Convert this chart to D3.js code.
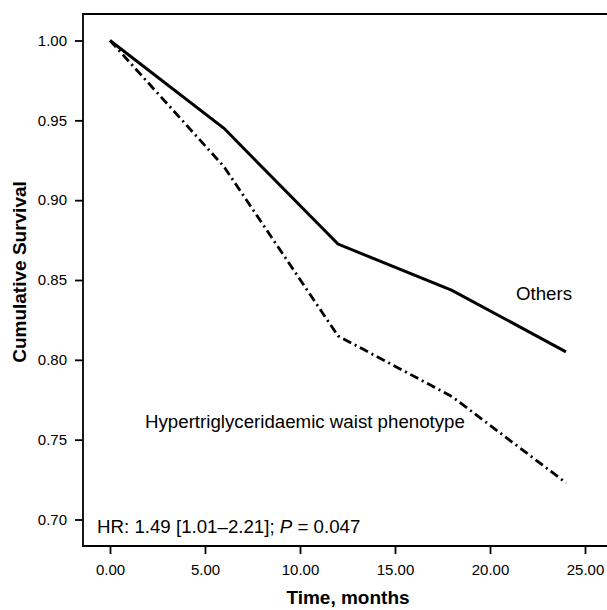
<!DOCTYPE html>
<html lang="en">
<head>
    <meta charset="UTF-8">
    <title>Cumulative Survival</title>
    <style>
        body { margin: 0; background: #fff; }
        svg { display: block; font-family: "Liberation Sans", Arial, sans-serif; }
    </style>
</head>
<body>
    <svg id="chart" width="607" height="610"></svg>

    <script src="https://d3js.org/d3.v7.min.js"></script>
    <script>
        // Data
        var months = [0, 6, 12, 18, 24];
        var others = [1.000, 0.945, 0.8725, 0.8435, 0.805];
        var hypertg = [1.000, 0.921, 0.815, 0.777, 0.723];
        var xTicks = [0, 5, 10, 15, 20, 25];
        var yTicks = [0.70, 0.75, 0.80, 0.85, 0.90, 0.95, 1.00];

        var svg = d3.select('#chart');

        // Frame: left 83, top 14, bottom 546, open to the right
        var frame = { left: 83, top: 14, bottom: 546, right: 607 };

        var x = d3.scaleLinear().domain([0, 25]).range([110, 585]);
        var y = d3.scaleLinear().domain([0.70, 1.00]).range([519.5, 40.5]);

        // Frame lines
        svg.append('path')
            .attr('d', 'M' + frame.right + ',' + frame.top + 'H' + frame.left + 'V' + frame.bottom + 'H' + frame.right)
            .attr('fill', 'none')
            .attr('stroke', '#000')
            .attr('stroke-width', 1.8);

        // Y axis
        var yAxis = d3.axisLeft(y)
            .tickValues(yTicks)
            .tickFormat(d3.format('.2f'))
            .tickSize(8)
            .tickPadding(8);
        var gy = svg.append('g')
            .attr('transform', 'translate(' + frame.left + ',0)')
            .call(yAxis);
        gy.select('.domain').remove();
        gy.selectAll('.tick line').attr('stroke-width', 1.8);
        gy.selectAll('.tick text').attr('font-size', 15).attr('font-family', '"Liberation Sans", Arial, sans-serif');

        // X axis
        var xAxis = d3.axisBottom(x)
            .tickValues(xTicks)
            .tickFormat(d3.format('.2f'))
            .tickSize(8)
            .tickPadding(10);
        var gx = svg.append('g')
            .attr('transform', 'translate(0,' + frame.bottom + ')')
            .call(xAxis);
        gx.select('.domain').remove();
        gx.selectAll('.tick line').attr('stroke-width', 1.8);
        gx.selectAll('.tick text').attr('font-size', 15).attr('font-family', '"Liberation Sans", Arial, sans-serif');

        // Lines
        var line = d3.line()
            .x(function(d, i) { return x(months[i]); })
            .y(function(d) { return y(d); });

        svg.append('path')
            .datum(others)
            .attr('d', line)
            .attr('fill', 'none')
            .attr('stroke', '#000')
            .attr('stroke-width', 3);

        svg.append('path')
            .datum(hypertg)
            .attr('d', line)
            .attr('fill', 'none')
            .attr('stroke', '#000')
            .attr('stroke-width', 2.8)
            .attr('stroke-dasharray', '9,4,2,4');

        // Labels
        svg.append('text')
            .attr('x', 516)
            .attr('y', 300)
            .attr('font-size', 18.7)
            .text('Others');

        svg.append('text')
            .attr('x', 145)
            .attr('y', 428)
            .attr('font-size', 18.7)
            .text('Hypertriglyceridaemic waist phenotype');

        var hr = svg.append('text')
            .attr('x', 97)
            .attr('y', 533)
            .attr('font-size', 18.7);
        hr.append('tspan').text('HR: 1.49 [1.01\u20132.21]; ');
        hr.append('tspan').attr('font-style', 'italic').text('P');
        hr.append('tspan').text(' = 0.047');

        // Axis titles
        svg.append('text')
            .attr('x', 348)
            .attr('y', 604)
            .attr('text-anchor', 'middle')
            .attr('font-size', 19)
            .attr('font-weight', 'bold')
            .text('Time, months');

        svg.append('text')
            .attr('transform', 'translate(26,272) rotate(-90)')
            .attr('text-anchor', 'middle')
            .attr('font-size', 19)
            .attr('font-weight', 'bold')
            .text('Cumulative Survival');
    </script>
</body>
</html>
